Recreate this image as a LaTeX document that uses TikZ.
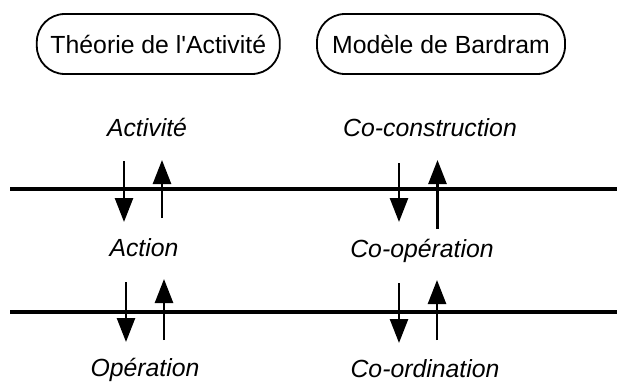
\documentclass[tikz,border=0pt]{standalone}
\usepackage{fontspec}
\setmainfont{Liberation Sans}
\usetikzlibrary{arrows.meta}
\tikzset{
	modele/.style={draw,line width=1.8pt,rounded corners=28pt,minimum height=60pt,inner sep=0pt,font=\fontsize{24.8}{30}\selectfont},
	niveau/.style={anchor=base,inner sep=0pt,font=\fontsize{24.8}{30}\selectfont\itshape},
	fleche/.style={line width=2.6pt,-{Triangle[width=18pt,length=24pt]}},
	separation/.style={line width=3.2pt}
}
\begin{document}
\begin{tikzpicture}[x=1pt,y=-1pt]
		\useasboundingbox(0,0)rectangle(617,381);
		\node[modele,minimum width=243pt](theorie)at(158.3,44){Th\'eorie de l\textquotesingle Activit\'e};
		\node[modele,minimum width=248pt](bardram)at(441,44){Mod\`ele de Bardram};
		\node[niveau](activite)at(147,136.7){Activit\'e};
		\node[niveau](action)at(144,256.7){Action};
		\node[niveau](operation)at(145,376.7){Op\'eration};
		\node[niveau](coconstruction)at(430,136.7){Co-construction};
		\node[niveau](cooperation)at(422,257){Co-op\'eration};
		\node[niveau](coordination)at(425,377){Co-ordination};
		\draw[separation](10,189)--(617,189) (10,312)--(617,312);
		\draw[fleche](124,161)--(124,222);
		\draw[fleche](162,218)--(162,160);
		\draw[fleche](399,163)--(399,222);
		\draw[fleche](437.5,229)--(437.5,160);
		\draw[fleche](126,282)--(126,342);
		\draw[fleche](164,340)--(164,279);
		\draw[fleche](399,283)--(399,343);
		\draw[fleche](437,340)--(437,280);
	\end{tikzpicture}
\end{document}
